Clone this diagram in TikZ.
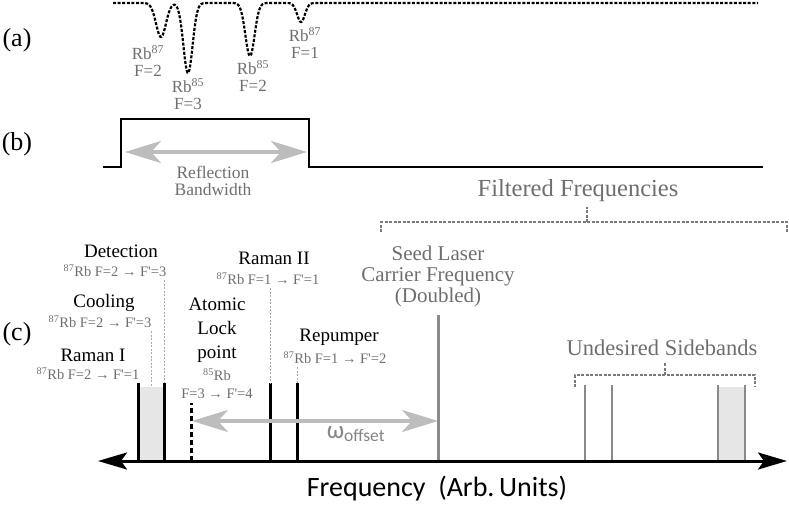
\documentclass[tikz,border=0pt]{standalone}
\usepackage{fontspec}
\setmainfont{Liberation Serif}
\newfontfamily\calfont{Carlito}
\usetikzlibrary{arrows.meta}
\definecolor{txtgray}{HTML}{6E6E6E}
\definecolor{lngray}{HTML}{A8A8A8}
\definecolor{brgray}{HTML}{7A7A7A}
\definecolor{arrgray}{HTML}{BDBDBD}
\definecolor{specgray}{HTML}{8A8A8A}
\definecolor{fillgray}{HTML}{E6E6E6}
\tikzset{
  panel/.style={font=\fontsize{26}{28}\selectfont, inner sep=0pt},
  rblabel/.style={text=txtgray, font=\fontsize{17}{17}\selectfont, align=center, inner sep=0pt},
  lab/.style={font=\fontsize{19}{24}\selectfont, align=center, inner sep=0pt},
  sublab/.style={text=txtgray, font=\fontsize{14.5}{18}\selectfont, align=center, inner sep=0pt},
  biglab/.style={text=txtgray, font=\fontsize{21}{21}\selectfont, align=center, inner sep=0pt},
  specline/.style={line width=3pt, draw=black},
  sbline/.style={line width=2.5pt, draw=specgray},
  guide/.style={draw=lngray, dash pattern=on 2pt off 1.5pt, line width=1pt},
  bracket/.style={draw=brgray, dash pattern=on 3pt off 1.5pt, line width=1.2pt},
  garrow/.style={draw=arrgray, line width=4pt, {Stealth[length=36pt,width=22pt,inset=10pt]}-{Stealth[length=36pt,width=22pt,inset=10pt]}},
  axisarrow/.style={draw=black, line width=3pt, {Stealth[length=29pt,width=17pt,inset=6pt]}-{Stealth[length=29pt,width=17pt,inset=6pt]}},
  curve/.style={draw=black, line width=2.2pt, dash pattern=on 3pt off 1.6pt},
  stepline/.style={draw=black, line width=2.5pt}
}
\begin{document}
\begin{tikzpicture}[x=1pt,y=-1pt]
\useasboundingbox (0,0) rectangle (789,508);

% panel labels
\node[panel] (pa) at (17,40) {(a)};
\node[panel] (pb) at (17,144) {(b)};
\node[panel] (pc) at (17,334) {(c)};

% (a) absorption spectrum
\draw[curve] plot[domain=113:330, samples=260, smooth]
  (\x, {3 + 34*exp(-((\x-161)/7)*((\x-161)/7)) + 70*exp(-((\x-188)/6.5)*((\x-188)/6.5)) + 53*exp(-((\x-250)/6.5)*((\x-250)/6.5)) + 19*exp(-((\x-301)/5.5)*((\x-301)/5.5))})
  -- (758,3);
\node[rblabel] (rb1) at (148,61) {Rb\textsuperscript{87}\\F=2};
\node[rblabel] (rb2) at (188,94) {Rb\textsuperscript{85}\\F=3};
\node[rblabel] (rb3) at (253,76) {Rb\textsuperscript{85}\\F=2};
\node[rblabel] (rb4) at (305,43) {Rb\textsuperscript{87}\\F=1};

% (b) reflection band
\draw[stepline] (103,167) -- (121,167) -- (121,119) -- (309,119) -- (309,167) -- (763,167);
\coordinate (refL) at (125,152);
\coordinate (refR) at (307,152);
\draw[garrow] (refL) -- (refR);
\node[text=txtgray, font=\fontsize{17.5}{17}\selectfont, align=center, inner sep=0pt] (refl) at (213,181) {Reflection\\Bandwidth};

% filtered frequencies
\node[text=txtgray, font=\fontsize{24.5}{24}\selectfont, inner sep=0pt] (ff) at (578,191) {Filtered Frequencies};
\coordinate (ffL) at (381,232);
\coordinate (ffR) at (787,232);
\coordinate (ffM) at (587,222);
\coordinate (ffT) at (587,207);
\draw[bracket] (ffL) -- (ffL |- ffM) -- (ffR |- ffM) -- (ffR);
\draw[bracket] (ffM) -- (ffT);

% (c) spectrum
\fill[fillgray] (138,387) rectangle (164,460);
\fill[fillgray] (718,387) rectangle (745,460);

\coordinate (l1b) at (138,461); \coordinate (l1t) at (138,383);
\coordinate (l2b) at (164,461); \coordinate (l2t) at (164,383);
\coordinate (lkb) at (191,461); \coordinate (lkt) at (191,403);
\coordinate (l3b) at (270,461); \coordinate (l3t) at (270,383);
\coordinate (l4b) at (297,461); \coordinate (l4t) at (297,383);
\coordinate (sdb) at (438,461); \coordinate (sdt) at (438,315);
\coordinate (s1b) at (585,461); \coordinate (s1t) at (585,385);
\coordinate (s2b) at (612,461); \coordinate (s2t) at (612,385);
\coordinate (s3b) at (718,461); \coordinate (s3t) at (718,385);
\coordinate (s4b) at (745,461); \coordinate (s4t) at (745,385);
\coordinate (coolt) at (151,387);

\draw[specline] (l1b) -- (l1t);
\draw[specline] (l2b) -- (l2t);
\draw[line width=3pt, dash pattern=on 5pt off 3pt] (lkb) -- (lkt);
\draw[specline] (l3b) -- (l3t);
\draw[specline] (l4b) -- (l4t);
\draw[line width=3pt, draw=specgray] (sdb) -- (sdt);
\draw[sbline] (s1b) -- (s1t);
\draw[sbline] (s2b) -- (s2t);
\draw[sbline] (s3b) -- (s3t);
\draw[sbline] (s4b) -- (s4t);

% axis
\coordinate (axL) at (98,461);
\coordinate (axR) at (787,461);
\draw[axisarrow] (axL) -- (axR);
\node[font=\calfont\fontsize{28}{30}\selectfont, inner sep=0pt] (freq) at (437,489) {Frequency\ \ (Arb.\,Units)};

% labels
\node[lab] (det) at (121,251) {Detection};
\node[sublab] (detsub) at (115,271) {\textsuperscript{87}Rb F=2 → F\textquotesingle=3};
\node[lab] (cool) at (104,303) {Cooling};
\node[sublab] (coolsub) at (100,322) {\textsuperscript{87}Rb F=2 → F\textquotesingle=3};
\node[lab] (r1) at (93,355) {Raman I};
\node[sublab] (r1sub) at (88,374) {\textsuperscript{87}Rb F=2 → F\textquotesingle=1};
\node[lab] (alp) at (217,330) {Atomic\\Lock\\point};
\node[sublab] (alpsub) at (217,384) {\textsuperscript{85}Rb\\F=3 → F\textquotesingle=4};
\node[lab] (r2) at (274,258) {Raman II};
\node[sublab] (r2sub) at (268,279) {\textsuperscript{87}Rb F=1 → F\textquotesingle=1};
\node[lab] (rep) at (339,337) {Repumper};
\node[sublab] (repsub) at (335,358) {\textsuperscript{87}Rb F=1 → F\textquotesingle=2};

\draw[guide] (detsub.south -| l2t) ++(0,3) -- (l2t);
\draw[guide] (coolsub.south -| coolt) ++(0,3) -- (coolt);
\draw[guide] (r2sub.south -| l3t) ++(0,3) -- (l3t);
\draw[guide] (repsub.south -| l4t) ++(0,3) -- (l4t);

% seed and omega
\node[biglab] (seed) at (438,276) {Seed Laser\\Carrier Frequency\\(Doubled)};
\coordinate (omL) at (192,421);
\coordinate (omR) at (438,421);
\draw[garrow] (omL) -- (omR);
\node[text=arrgray!70!black, font=\calfont\fontsize{25}{27}\selectfont, inner sep=0pt] (om) at (356,434) {ω\textsubscript{offset}};

% undesired sidebands
\node[biglab, font=\fontsize{22.5}{22}\selectfont] (us) at (662,348) {Undesired Sidebands};
\coordinate (usL) at (575,387);
\coordinate (usR) at (755,387);
\coordinate (usM) at (665,375);
\coordinate (usT) at (665,362);
\draw[bracket] (usL) -- (usL |- usM) -- (usR |- usM) -- (usR);
\draw[bracket] (usM) -- (usT);
\end{tikzpicture}
\end{document}
